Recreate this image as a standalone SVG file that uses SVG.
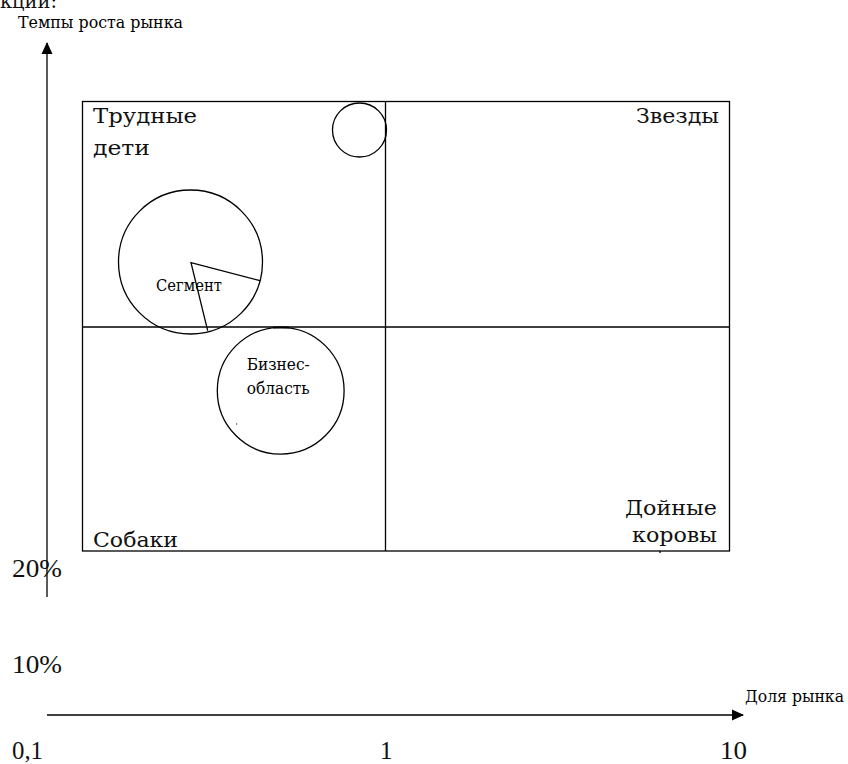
<svg xmlns="http://www.w3.org/2000/svg" width="848" height="764" viewBox="0 0 848 764">
<style>
.ln{stroke:#000;stroke-width:1.3;fill:none}
.big{font-family:"DejaVu Serif","Liberation Serif",serif;font-size:21px;fill:#111}
.sm{font-family:"DejaVu Serif","Liberation Serif",serif;font-size:17px;fill:#000}
.num{font-family:"Liberation Serif","DejaVu Serif",serif;font-size:25px;fill:#111}
</style>
<defs>
<marker id="ah" markerWidth="12" markerHeight="12" refX="11" refY="6" orient="auto" markerUnits="userSpaceOnUse">
<path d="M0,0.5 L12,6 L0,11.5 Z" fill="#000"/>
</marker>
</defs>
<rect width="848" height="764" fill="#fff"/>
<text x="0" y="8" class="big" font-size="24" textLength="57" lengthAdjust="spacingAndGlyphs">кции:</text>
<g id="axes">
<line class="ln" x1="47" y1="597" x2="47" y2="43" marker-end="url(#ah)"/>
<line class="ln" x1="47" y1="715" x2="743" y2="715" marker-end="url(#ah)"/>
<text x="18" y="28" class="sm" textLength="165" lengthAdjust="spacingAndGlyphs">Темпы роста рынка</text>
<text x="745" y="702" class="sm" textLength="99" lengthAdjust="spacingAndGlyphs">Доля рынка</text>
<text x="12" y="577" class="num" textLength="50" lengthAdjust="spacingAndGlyphs">20%</text>
<text x="12" y="673" class="num" textLength="50" lengthAdjust="spacingAndGlyphs">10%</text>
<text x="12" y="759" class="num" textLength="31" lengthAdjust="spacingAndGlyphs">0,1</text>
<text x="380" y="759" class="num">1</text>
<text x="720" y="759" class="num" textLength="27" lengthAdjust="spacingAndGlyphs">10</text>
</g>
<g id="matrix">
<rect class="ln" x="82.5" y="101.5" width="647" height="449.5"/>
<line class="ln" x1="385.5" y1="101.5" x2="385.5" y2="551"/>
<line class="ln" x1="82.5" y1="327" x2="729.5" y2="327"/>
<line class="ln" x1="660" y1="551" x2="660" y2="553"/>
</g>
<g id="labels">
<text x="93" y="123" class="big" textLength="104" lengthAdjust="spacingAndGlyphs">Трудные</text>
<text x="93" y="155" class="big" textLength="57" lengthAdjust="spacingAndGlyphs">дети</text>
<text x="636" y="123" class="big" textLength="83" lengthAdjust="spacingAndGlyphs">Звезды</text>
<text x="625" y="515" class="big" textLength="92" lengthAdjust="spacingAndGlyphs">Дойные</text>
<text x="632" y="542" class="big" textLength="85" lengthAdjust="spacingAndGlyphs">коровы</text>
<text x="93" y="547" class="big" textLength="85" lengthAdjust="spacingAndGlyphs">Собаки</text>
</g>
<g id="small-circle">
<circle class="ln" cx="359.5" cy="130" r="27"/>
</g>
<g id="segment-circle">
<circle class="ln" cx="190.5" cy="262" r="72"/>
<polyline class="ln" points="260,280.7 191,262.7 207.7,330.7"/>
<text x="156" y="291" class="sm" font-size="15" textLength="66" lengthAdjust="spacingAndGlyphs">Сегмент</text>
</g>
<g id="business-circle">
<circle class="ln" cx="280.7" cy="390.7" r="63.4"/>
<line x1="273" y1="327.5" x2="289" y2="327.5" stroke="#000" stroke-width="2"/>
<text x="246.7" y="370" class="sm" font-size="16" textLength="63" lengthAdjust="spacingAndGlyphs">Бизнес-</text>
<text x="246.7" y="394" class="sm" font-size="16" textLength="63" lengthAdjust="spacingAndGlyphs">область</text>
<circle cx="236.7" cy="424" r="0.7" fill="#333"/>
</g>
</svg>
